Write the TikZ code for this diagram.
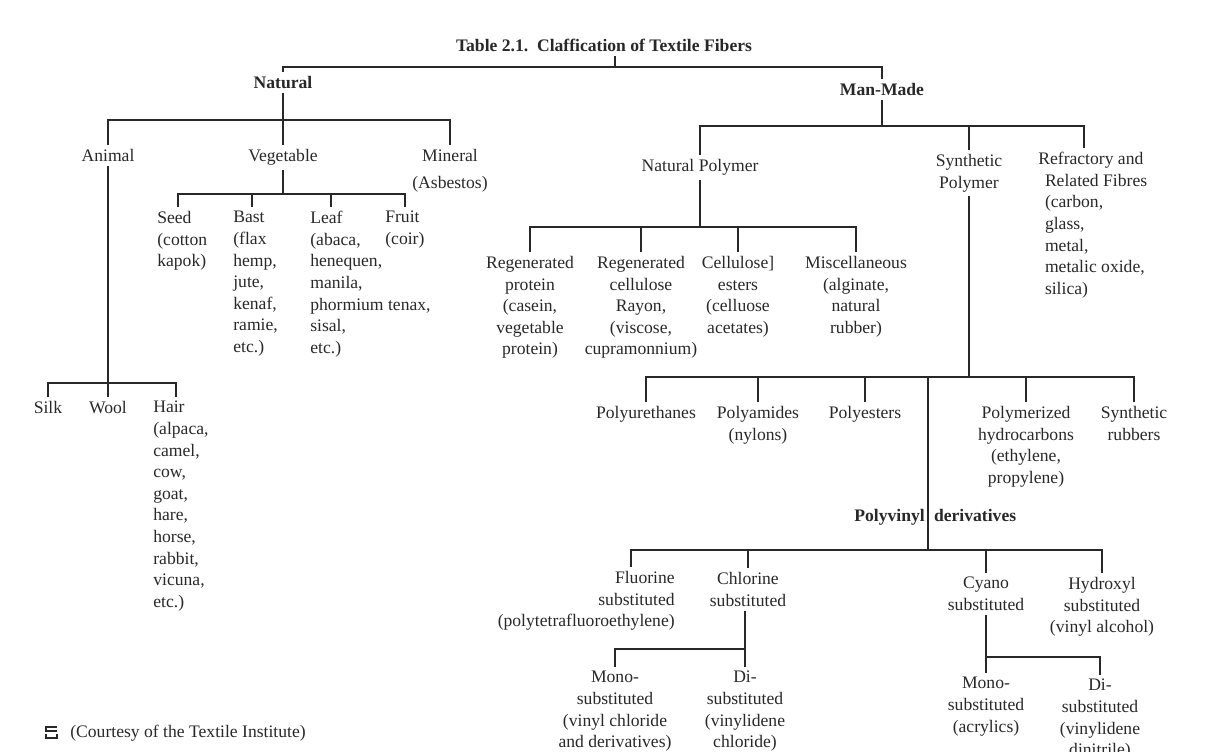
\documentclass[tikz,border=0pt]{standalone}
\usepackage{fontspec}
\setmainfont{Liberation Serif}
\usepackage{tikz}
\definecolor{ink}{RGB}{40,40,40}

\begin{document}
\begin{tikzpicture}[x=0.75pt,y=0.75pt,yscale=-1,xscale=1,
	lbl/.style={inner sep=0.75pt,outer sep=2.5pt,text=ink,align=center,anchor=north,font=\fontsize{13.2}{16.2}\selectfont},
	lbll/.style={lbl,align=left,anchor=north west},
	head/.style={lbl,font=\fontsize{13.2}{16.2}\selectfont\bfseries},
	branch/.style={draw=ink,line width=1.2pt}]
	\useasboundingbox (0,0) rectangle (1208,751);
	
	% Text Node
	\draw (604,35) node [head] (title) {Table 2.1.\ \ Claffication of Textile Fibers};
	% Text Node
	\draw (283,72) node [head] (natural) {Natural};
	% Text Node
	\draw (882,79) node [head] (manmade) {Man-Made};
	
	% Text Node
	\draw (108,145) node [lbl] (animal) {Animal};
	% Text Node
	\draw (283,145) node [lbl] (vegetable) {Vegetable};
	% Text Node
	\draw (450,145) node [lbl] (mineral) {Mineral\\[4pt](Asbestos)};
	% Text Node
	\draw (153,207) node [lbll] (seed) {Seed\\(cotton\\kapok)};
	% Text Node
	\draw (229,207) node [lbll] (bast) {Bast\\(flax\\hemp,\\jute,\\kenaf,\\ramie,\\etc.)};
	% Text Node
	\draw (306,207) node [lbll] (leaf) {Leaf\\(abaca,\\henequen,\\manila,\\phormium tenax,\\sisal,\\etc.)};
	% Text Node
	\draw (381,207) node [lbll] (fruit) {Fruit\\(coir)};
	% Text Node
	\draw (48,397) node [lbl] (silk) {Silk};
	% Text Node
	\draw (108,397) node [lbl] (wool) {Wool};
	% Text Node
	\draw (149,397) node [lbll] (hair) {Hair\\(alpaca,\\camel,\\cow,\\goat,\\hare,\\horse,\\rabbit,\\vicuna,\\etc.)};
	
	% Text Node
	\draw (700,155) node [lbl] (natpoly) {Natural Polymer};
	% Text Node
	\draw (969,150) node [lbl] (synpoly) {Synthetic\\Polymer};
	% Text Node
	\draw (1034,148) node [lbll] (refract) {Refractory and\\\hspace*{5pt}Related Fibres\\\hspace*{5pt}(carbon,\\\hspace*{5pt}glass,\\\hspace*{5pt}metal,\\\hspace*{5pt}metalic oxide,\\\hspace*{5pt}silica)};
	% Text Node
	\draw (530,252) node [lbl] (regprot) {Regenerated\\protein\\(casein,\\vegetable\\protein)};
	% Text Node
	\draw (641,252) node [lbl] (regcell) {Regenerated\\cellulose\\Rayon,\\(viscose,\\cupramonnium)};
	% Text Node
	\draw (738,252) node [lbl] (celest) {Cellulose]\\esters\\(celluose\\acetates)};
	% Text Node
	\draw (856,252) node [lbl] (misc) {Miscellaneous\\(alginate,\\natural\\rubber)};
	
	% Text Node
	\draw (646,402) node [lbl] (polyu) {Polyurethanes};
	% Text Node
	\draw (758,402) node [lbl] (polya) {Polyamides\\(nylons)};
	% Text Node
	\draw (865,402) node [lbl] (polye) {Polyesters};
	% Text Node
	\draw (1026,402) node [lbl] (polyh) {Polymerized\\hydrocarbons\\(ethylene,\\propylene)};
	% Text Node
	\draw (1134,402) node [lbl] (synrub) {Synthetic\\rubbers};
	% Text Node
	\draw (850,517) node [head,anchor=west] (polyvin) {Polyvinyl\hspace{7pt}derivatives};
	
	% Text Node
	\draw (679,567) node [lbl,align=right,anchor=north east] (fluor) {Fluorine\\substituted\\(polytetrafluoroethylene)};
	% Text Node
	\draw (748,568) node [lbl] (chlor) {Chlorine\\substituted};
	% Text Node
	\draw (986,573) node [lbl] (cyano) {Cyano\\substituted};
	% Text Node
	\draw (1102,573) node [lbl] (hydrox) {Hydroxyl\\substituted\\(vinyl alcohol)};
	% Text Node
	\draw (615,667) node [lbl] (monol) {Mono-\\substituted\\(vinyl chloride\\and derivatives)};
	% Text Node
	\draw (745,667) node [lbl] (dil) {Di-\\substituted\\(vinylidene\\chloride)};
	% Text Node
	\draw (986,673) node [lbl] (monor) {Mono-\\substituted\\(acrylics)};
	% Text Node
	\draw (1100,675) node [lbl] (dir) {Di-\\substituted\\(vinylidene\\dinitrile)};
	
	% Text Node
	\draw (66,733) node [lbl,anchor=west] (source) {(Courtesy of the Textile Institute)};
	%Shape: small mark
	\draw [branch,line width=1pt] (57,727) -- (46,727) -- (46,731) -- (57,731) ;
	\draw [branch,line width=1pt] (46,734) -- (46,738) -- (57,738) -- (57,734) ;
	
	% bar levels
	\coordinate (topbar) at (615,67);
	\coordinate (natbar) at (283,120);
	\coordinate (vegbar) at (283,194);
	\coordinate (anibar) at (108,383);
	\coordinate (mmbar) at (885,126);
	\coordinate (npbar) at (697,227);
	\coordinate (synbar) at (966,377);
	\coordinate (pvtop) at (928,377);
	\coordinate (pvbar) at (928,550);
	\coordinate (clbar) at (745,649);
	\coordinate (cybar) at (986,657);
	
	%Straight Lines
	\draw [branch] (title.south -| topbar) -- (topbar) ;
	\draw [branch] (topbar) -| (natural) ;
	\draw [branch] (topbar) -| (manmade) ;
	%Straight Lines
	\draw [branch] (natural) -- (vegetable) ;
	\draw [branch] (animal) |- (natbar) -| (mineral) ;
	%Straight Lines
	\draw [branch] (vegetable) -- (vegetable |- vegbar) ;
	\draw [branch] (vegbar) -| ([shift={(25,0)}]seed.north west) ;
	\draw [branch] (vegbar) -| ([shift={(23,0)}]bast.north west) ;
	\draw [branch] (vegbar) -| ([shift={(25,0)}]leaf.north west) ;
	\draw [branch] (vegbar) -| ([shift={(24,0)}]fruit.north west) ;
	%Straight Lines
	\draw [branch] (animal) -- (wool) ;
	\draw [branch] (silk) |- (anibar) -| ([shift={(27,0)}]hair.north west) ;
	
	%Straight Lines
	\draw [branch] (manmade) -- (manmade |- mmbar) ;
	\draw [branch] (natpoly) |- (mmbar) -| ([shift={(50,0)}]refract.north west) ;
	\draw [branch] (mmbar) -| (synpoly) ;
	%Straight Lines
	\draw [branch] (natpoly) -- (natpoly |- npbar) ;
	\draw [branch] (npbar) -| (regprot) ;
	\draw [branch] (npbar) -| (regcell) ;
	\draw [branch] (npbar) -| (celest) ;
	\draw [branch] (npbar) -| (misc) ;
	%Straight Lines
	\draw [branch] (synpoly) -- (synpoly |- synbar) ;
	\draw [branch] (synbar) -| (polyu) ;
	\draw [branch] (synbar) -| (polya) ;
	\draw [branch] (synbar) -| (polye) ;
	\draw [branch] (synbar) -| (polyh) ;
	\draw [branch] (synbar) -| (synrub) ;
	%Straight Lines
	\draw [branch] (pvtop) -- (pvbar) ;
	\draw [branch] ([shift={(-48,0)}]fluor.north east) |- (pvbar) ;
	\draw [branch] (pvbar) -| (chlor) ;
	\draw [branch] (pvbar) -| (cyano) ;
	\draw [branch] (pvbar) -| (hydrox) ;
	%Straight Lines
	\draw [branch] (dil |- chlor.south) -- (dil) ;
	\draw [branch] (monol) |- (clbar) ;
	\draw [branch] (cyano) -- (monor) ;
	\draw [branch] (cybar) -| (dir) ;
	
\end{tikzpicture}
\end{document}
